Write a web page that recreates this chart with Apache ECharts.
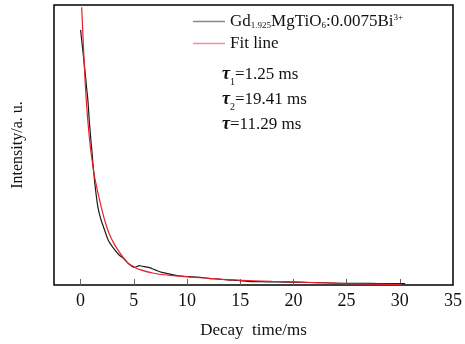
<!DOCTYPE html>
<html>
<head>
<meta charset="utf-8">
<script src="https://cdn.jsdelivr.net/npm/echarts@6/dist/echarts.min.js"></script>
<style>
  html, body { margin: 0; padding: 0; background: #fff; }
  #chart { width: 465px; height: 344px; }
</style>
</head>
<body>
<div id="chart"></div>
<script>
// measured decay curve (time in ms, intensity normalised 0-100)
var decayTime = [0, 0.2, 0.37, 0.55, 0.68, 0.85, 1.05, 1.3, 1.61, 1.9, 2.23, 2.6, 3.16, 3.6, 4.09, 4.55, 5.01, 5.3, 5.48, 5.8, 6.41, 7.0, 7.64, 8.4, 9.19, 10.1, 11, 12.0, 13, 13.8, 14.8, 15.7, 17, 18.5, 20.0, 21.5, 23, 25.0, 26.5, 28, 29.5, 30.5]
var measured = [91.1, 84, 78.0, 71, 66.2, 57, 48.4, 37.7, 28.2, 23.5, 19.9, 16, 12.8, 10.8, 9.3, 7.5, 6.3, 6.6, 6.9, 6.7, 6.3, 5.4, 4.5, 3.9, 3.3, 3.0, 2.8, 2.4, 2.1, 1.8, 1.6, 1.3, 1.2, 1.1, 1.0, 0.9, 0.8, 0.6, 0.6, 0.5, 0.5, 0.5]

// fitted curve
var fitTime = [0.1, 0.28, 0.53, 0.84, 1.1, 1.36, 1.92, 2.53, 3.0, 3.46, 4.39, 5.0, 5.64, 6.87, 8.26, 10.1, 12.0, 13.9, 15.7, 18, 20.0, 22.5, 25.0, 27.5, 30.2]
var fitValue = [99.2, 84.0, 66.2, 52.0, 44, 37.7, 28.2, 19.9, 15.8, 12.8, 8.1, 6.5, 5.4, 4.2, 3.5, 2.9, 2.4, 1.9, 1.6, 1.3, 1.1, 0.8, 0.5, 0.3, 0.1]

var xTicks = [0, 5, 10, 15, 20, 25, 30]
var xLabels = [0, 5, 10, 15, 20, 25, 30, 35]

function pairs(xs, ys) {
  return xs.map(function (x, i) { return [x, ys[i]] })
}

var serif = 'Liberation Serif'
var chart = echarts.init(document.getElementById('chart'))
chart.setOption({
  animation: false,
  textStyle: { fontFamily: serif },
  grid: {
    left: 54, right: 8, top: 5, bottom: 58,
    show: true, borderColor: '#000', borderWidth: 1.5
  },
  legend: {
    left: 188, top: 8,
    orient: 'vertical',
    icon: 'rect',
    itemWidth: 32, itemHeight: 1.5, itemGap: 5,
    textStyle: {
      fontFamily: serif, fontSize: 17, color: '#111',
      rich: {
        n: { fontFamily: serif, fontSize: 17, color: '#111' },
        s: { fontFamily: serif, fontSize: 9, color: '#111', verticalAlign: 'bottom', padding: [8, 0, 0, 0] },
        p: { fontFamily: serif, fontSize: 9, color: '#111', verticalAlign: 'top', padding: [0, 0, 8, 0] }
      }
    },
    formatter: function (name) {
      if (name === 'sample') {
        return '{n|Gd}{s|1.925}{n|MgTiO}{s|6}{n|:0.0075Bi}{p|3+}'
      }
      return '{n|' + name + '}'
    },
    data: [
      { name: 'sample', itemStyle: { color: '#888' } },
      { name: 'Fit line', itemStyle: { color: '#f29098' } }
    ]
  },
  xAxis: {
    type: 'value',
    min: -2.5,
    max: 35,
    name: 'Decay  time/ms',
    nameLocation: 'middle',
    nameGap: 37,
    nameTextStyle: { fontFamily: serif, fontSize: 17, color: '#111' },
    axisLine: { show: false },
    splitLine: { show: false },
    axisTick: { show: true, inside: true, length: 6, customValues: xTicks, lineStyle: { color: '#666' } },
    axisLabel: { customValues: xLabels, fontFamily: serif, fontSize: 18, color: '#111', margin: 7 }
  },
  yAxis: {
    type: 'value',
    min: 0,
    max: 100,
    name: 'Intensity/a. u.',
    nameLocation: 'middle',
    nameGap: 28,
    nameTextStyle: { fontFamily: serif, fontSize: 16, color: '#111' },
    axisLine: { show: false },
    axisTick: { show: false },
    axisLabel: { show: false },
    splitLine: { show: false }
  },
  graphic: [
    {
      type: 'text', left: 222, top: 62,
      style: {
        text: '{t|τ}{s|1}{n|=1.25 ms}\n{t|τ}{s|2}{n|=19.41 ms}\n{t|τ}{n|=11.29 ms}',
        lineHeight: 25,
        rich: {
          t: { fontFamily: serif, fontSize: 18, fontStyle: 'italic', fontWeight: 'bold', fill: '#111', lineHeight: 25 },
          s: { fontFamily: serif, fontSize: 10, fill: '#111', verticalAlign: 'bottom', lineHeight: 25, padding: [7, 0, 0, 0] },
          n: { fontFamily: serif, fontSize: 17, fill: '#111', lineHeight: 25 }
        }
      }
    }
  ],
  series: [
    {
      name: 'sample',
      type: 'line',
      data: pairs(decayTime, measured),
      symbol: 'none',
      smooth: 0.3,
      lineStyle: { color: '#1a1a1a', width: 1.2 },
      itemStyle: { color: '#1a1a1a' },
      z: 2
    },
    {
      name: 'Fit line',
      type: 'line',
      data: pairs(fitTime, fitValue),
      symbol: 'none',
      smooth: true,
      lineStyle: { color: '#e8202a', width: 1.2 },
      itemStyle: { color: '#e8202a' },
      z: 3
    }
  ]
})
</script>
</body>
</html>
